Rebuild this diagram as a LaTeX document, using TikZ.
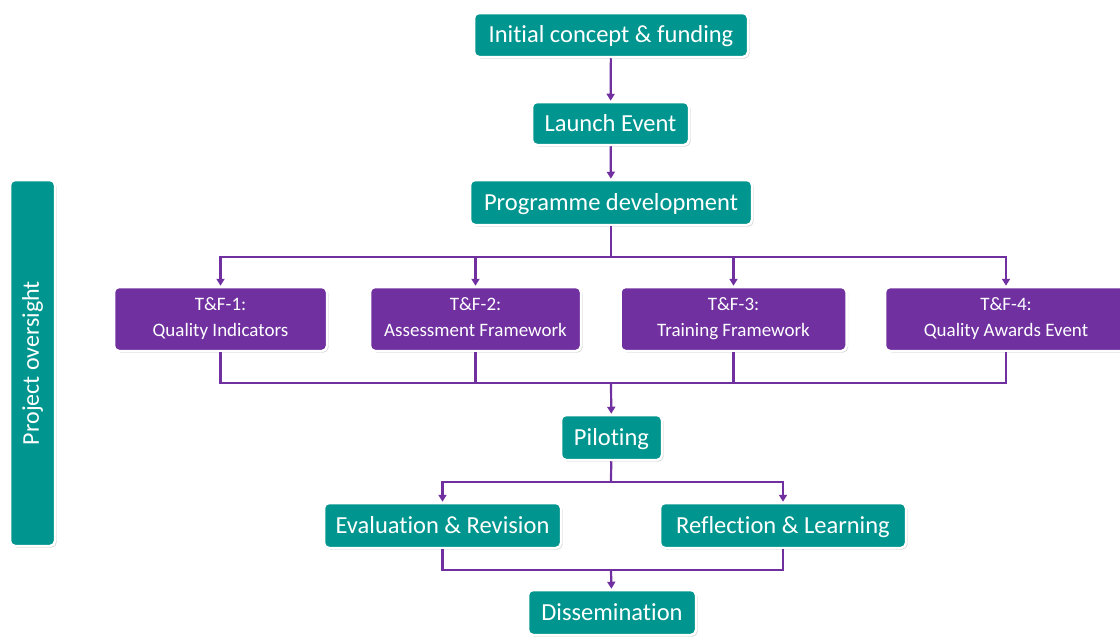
\documentclass[tikz,border=0pt]{standalone}
\usepackage{fontspec}
\setmainfont{Carlito}[Ligatures=NoCommon]
\usetikzlibrary{shadows,arrows.meta}
\definecolor{teal1}{HTML}{00968F}
\definecolor{purp}{HTML}{7030A0}
\begin{document}
\begin{tikzpicture}[x=1pt,y=-1pt,
  box/.style={draw=white, line width=2.5pt, rounded corners=5pt, text=white, inner sep=0pt,
    drop shadow={shadow xshift=1.5pt, shadow yshift=-1.5pt, opacity=0.35}},
  tbox/.style={box, fill=teal1, font=\fontsize{24.5}{28}\selectfont, text height=18pt, text depth=3pt},
  pbox/.style={box, fill=purp, font=\fontsize{19}{26}\selectfont, align=center, text height=39pt, text depth=5pt},
  conn/.style={draw=purp, line width=2.2pt},
  arr/.style={conn, -{Triangle[width=8pt,length=7pt]}}]
\useasboundingbox (0,0) rectangle (1120,637);
\fill[white] (0,0) rectangle (1120,637);

\node[tbox, minimum width=274pt, minimum height=44pt] (init) at (611,35) {Initial concept \& funding};
\node[tbox, minimum width=157pt, minimum height=43pt] (launch) at (610.5,123.5) {Launch Event};
\node[tbox, minimum width=282pt, minimum height=45pt] (prog) at (611,202.5) {Programme development};

\node[pbox, minimum width=213pt, minimum height=64pt] (tf1) at (220.5,319) {T\&F-1:\\Quality Indicators};
\node[pbox, minimum width=211pt, minimum height=64pt] (tf2) at (475.5,319) {T\&F-2:\\Assessment Framework};
\node[pbox, minimum width=226pt, minimum height=64pt] (tf3) at (733.5,319) {T\&F-3:\\Training Framework};
\node[pbox, minimum width=242pt, minimum height=64pt] (tf4) at (1006,319) {T\&F-4:\\Quality Awards Event};

\node[tbox, minimum width=101pt, minimum height=45pt] (pilot) at (611.5,437.5) {Piloting};
\node[tbox, minimum width=237pt, minimum height=45pt] (eval) at (442.5,525.5) {Evaluation \& Revision};
\node[tbox, minimum width=246pt, minimum height=45pt] (refl) at (783,525.5) {Reflection \& Learning};
\node[tbox, minimum width=168pt, minimum height=45pt] (diss) at (612,612.5) {Dissemination};

\node[box, fill=teal1, minimum width=45pt, minimum height=366pt, font=\fontsize{24}{28}\selectfont] (proj) at (32.5,363) {\rotatebox{90}{Project oversight}};

\coordinate (s1) at (611,257);
\coordinate (m1) at (611,383);
\coordinate (s2) at (611,482);
\coordinate (m2) at (611,570);

\draw[arr] (init) -- (launch);
\draw[arr] (launch) -- (prog);
\draw[conn] (prog) -- (s1);
\draw[arr] (s1) -| (tf1);
\draw[arr] (s1) -| (tf2);
\draw[arr] (s1) -| (tf3);
\draw[arr] (s1) -| (tf4);
\draw[conn] (tf1) |- (m1);
\draw[conn] (tf2) |- (m1);
\draw[conn] (tf3) |- (m1);
\draw[conn] (tf4) |- (m1);
\draw[arr] (m1) -- (pilot);
\draw[conn] (pilot) -- (s2);
\draw[arr] (s2) -| (eval);
\draw[arr] (s2) -| (refl);
\draw[conn] (eval) |- (m2);
\draw[conn] (refl) |- (m2);
\draw[arr] (m2) -- (diss);
\end{tikzpicture}
\end{document}
